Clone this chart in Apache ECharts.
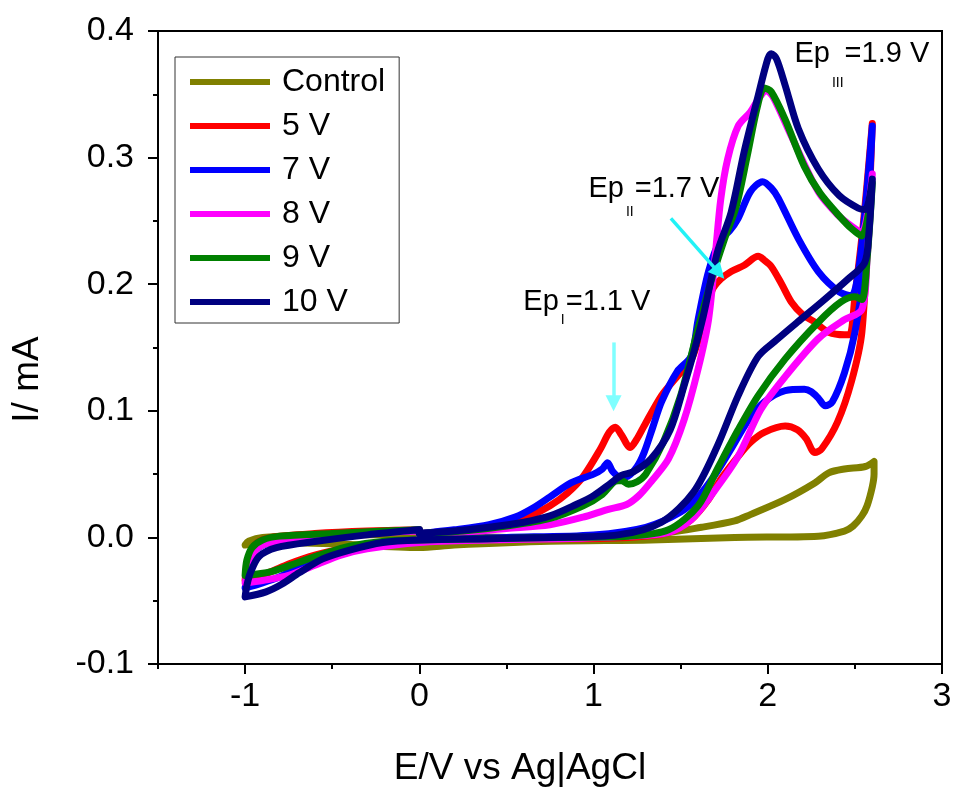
<!DOCTYPE html>
<html>
<head>
<meta charset="utf-8">
<title>Cyclic voltammograms</title>
<script src="https://cdn.jsdelivr.net/npm/echarts@6/dist/echarts.min.js"></script>
<style>
  html, body { margin: 0; padding: 0; background: #fff; }
  #chart { width: 956px; height: 788px; }
</style>
</head>
<body>
<div id="chart"></div>
<script>
// Each loop: anodic sweep 0 -> 2.6 V, cathodic sweep 2.6 -> -1 V, then back to 0 V.
// Points are [E (V vs Ag|AgCl), I (mA)].
const seriesNames = ['Control', '5 V', '7 V', '8 V', '9 V', '10 V'];
const seriesColors = ['#808000', '#FF0000', '#0000FF', '#FF00FF', '#008000', '#000080'];

const control = [
  [0.0, 0.002], [0.5, 0.0], [1.0, 0.0], [1.33, 0.002], [1.62, 0.008], [1.81, 0.013], [1.9, 0.018],
  [2.1, 0.030], [2.27, 0.043], [2.35, 0.051], [2.44, 0.054], [2.56, 0.056], [2.61, 0.060],
  [2.61, 0.050], [2.6, 0.040], [2.57, 0.025], [2.54, 0.017], [2.49, 0.009], [2.44, 0.005],
  [2.29, 0.001], [1.81, 0.0], [1.33, -0.002], [0.75, -0.003], [0.2, -0.006], [0.0, -0.008],
  [-0.5, -0.005], [-0.9, -0.004], [-1.0, -0.006],
  [-0.98, -0.003], [-0.9, 0.0], [-0.5, 0.002], [0.0, 0.002]
];

const v5 = [
  [0.0, 0.003], [0.25, 0.006], [0.5, 0.012], [0.65, 0.018], [0.75, 0.025], [0.85, 0.035],
  [0.94, 0.048], [1.04, 0.070], [1.09, 0.083], [1.125, 0.087], [1.16, 0.081], [1.21, 0.071],
  [1.25, 0.078], [1.29, 0.088], [1.39, 0.112], [1.48, 0.127], [1.56, 0.140], [1.62, 0.165],
  [1.68, 0.195], [1.73, 0.204], [1.79, 0.210], [1.865, 0.215], [1.945, 0.222], [1.98, 0.219],
  [2.02, 0.214], [2.08, 0.200], [2.135, 0.186], [2.2, 0.176], [2.27, 0.170], [2.35, 0.162],
  [2.44, 0.160], [2.47, 0.160], [2.5, 0.190], [2.55, 0.250], [2.6, 0.327],
  [2.58, 0.260], [2.54, 0.162], [2.48, 0.123], [2.40, 0.091], [2.31, 0.070], [2.27, 0.067],
  [2.22, 0.078], [2.17, 0.085], [2.10, 0.088], [1.98, 0.083], [1.90, 0.075], [1.83, 0.064],
  [1.73, 0.046], [1.66, 0.030], [1.56, 0.014], [1.43, 0.004], [1.2, 0.0], [0.8, -0.001],
  [0.4, -0.001], [0.0, -0.002], [-0.2, -0.004], [-0.4, -0.008], [-0.6, -0.014], [-0.75, -0.021],
  [-0.85, -0.027], [-0.93, -0.031], [-1.0, -0.034],
  [-0.99, -0.022], [-0.97, -0.012], [-0.93, -0.004], [-0.85, 0.0], [-0.6, 0.003], [-0.3, 0.005], [0.0, 0.006]
];

const v7 = [
  [0.0, 0.003], [0.2, 0.006], [0.4, 0.010], [0.55, 0.016], [0.65, 0.023], [0.75, 0.032],
  [0.87, 0.043], [1.0, 0.050], [1.05, 0.054], [1.08, 0.059], [1.11, 0.052], [1.15, 0.048],
  [1.19, 0.048], [1.25, 0.056], [1.29, 0.067], [1.34, 0.087], [1.39, 0.107], [1.48, 0.131],
  [1.56, 0.143], [1.60, 0.172], [1.66, 0.210], [1.73, 0.236], [1.78, 0.242], [1.83, 0.252],
  [1.90, 0.273], [1.97, 0.281], [2.02, 0.276], [2.06, 0.268], [2.175, 0.236], [2.29, 0.210],
  [2.41, 0.194], [2.48, 0.191], [2.52, 0.210], [2.56, 0.260], [2.6, 0.325],
  [2.58, 0.270], [2.556, 0.214], [2.50, 0.162], [2.44, 0.130], [2.37, 0.107], [2.33, 0.104],
  [2.29, 0.110], [2.25, 0.115], [2.21, 0.117], [2.10, 0.116], [1.98, 0.107], [1.89, 0.093],
  [1.79, 0.070], [1.70, 0.050], [1.60, 0.032], [1.50, 0.020], [1.30, 0.008], [1.0, 0.002],
  [0.5, 0.0], [0.0, -0.002], [-0.2, -0.004], [-0.4, -0.009], [-0.55, -0.015], [-0.7, -0.024],
  [-0.8, -0.031], [-0.9, -0.036], [-1.0, -0.040],
  [-0.98, -0.025], [-0.95, -0.012], [-0.9, -0.006], [-0.8, -0.002], [-0.5, 0.002], [-0.2, 0.004], [0.0, 0.006]
];

const v8 = [
  [0.0, 0.002], [0.25, 0.004], [0.5, 0.007], [0.75, 0.010], [0.94, 0.016], [1.08, 0.022],
  [1.19, 0.026], [1.26, 0.033], [1.33, 0.044], [1.43, 0.062], [1.52, 0.093], [1.60, 0.133],
  [1.66, 0.172], [1.70, 0.225], [1.73, 0.267], [1.77, 0.299], [1.83, 0.325], [1.90, 0.336],
  [1.95, 0.347], [1.99, 0.353], [2.03, 0.348], [2.135, 0.317], [2.29, 0.273], [2.40, 0.255],
  [2.48, 0.246], [2.54, 0.241], [2.6, 0.287],
  [2.57, 0.220], [2.54, 0.180], [2.44, 0.172], [2.29, 0.157], [2.10, 0.127], [1.96, 0.101],
  [1.83, 0.064], [1.69, 0.036], [1.56, 0.014], [1.43, 0.004], [1.2, 0.001], [0.8, -0.001],
  [0.4, -0.002], [0.0, -0.004], [-0.3, -0.009], [-0.45, -0.014], [-0.6, -0.022], [-0.75, -0.030],
  [-0.9, -0.034], [-1.0, -0.036],
  [-0.98, -0.024], [-0.95, -0.012], [-0.9, -0.006], [-0.8, -0.003], [-0.5, 0.001], [-0.2, 0.004], [0.0, 0.005]
];

const v9 = [
  [0.0, 0.003], [0.25, 0.005], [0.5, 0.009], [0.75, 0.015], [0.94, 0.025], [1.05, 0.034],
  [1.12, 0.044], [1.16, 0.045], [1.2, 0.042], [1.25, 0.044], [1.3, 0.050], [1.4, 0.075],
  [1.5, 0.112], [1.6, 0.165], [1.68, 0.205], [1.75, 0.235], [1.82, 0.262], [1.88, 0.300],
  [1.94, 0.340], [1.98, 0.355], [2.02, 0.352], [2.1, 0.330], [2.21, 0.293], [2.3, 0.272],
  [2.41, 0.254], [2.48, 0.244], [2.54, 0.238], [2.6, 0.280],
  [2.57, 0.220], [2.54, 0.188], [2.50, 0.190], [2.42, 0.186], [2.29, 0.170], [2.10, 0.141],
  [1.945, 0.112], [1.83, 0.085], [1.71, 0.054], [1.60, 0.025], [1.43, 0.006], [1.2, 0.001],
  [0.8, 0.0], [0.4, -0.001], [0.0, -0.002], [-0.2, -0.003], [-0.4, -0.007], [-0.55, -0.013],
  [-0.7, -0.020], [-0.85, -0.027], [-1.0, -0.030],
  [-0.99, -0.018], [-0.96, -0.008], [-0.9, -0.002], [-0.8, 0.001], [-0.5, 0.003], [-0.2, 0.005], [0.0, 0.006]
];

const v10 = [
  [0.0, 0.003], [0.2, 0.005], [0.4, 0.008], [0.6, 0.012], [0.75, 0.017], [0.9, 0.026],
  [1.0, 0.033], [1.1, 0.043], [1.16, 0.049], [1.23, 0.052], [1.33, 0.062], [1.44, 0.085],
  [1.52, 0.120], [1.575, 0.146], [1.63, 0.175], [1.71, 0.225], [1.79, 0.257], [1.865, 0.305],
  [1.945, 0.349], [2.0, 0.378], [2.02, 0.382], [2.05, 0.378], [2.10, 0.357], [2.175, 0.323],
  [2.29, 0.291], [2.41, 0.270], [2.52, 0.260], [2.56, 0.259], [2.6, 0.283],
  [2.58, 0.240], [2.556, 0.217], [2.46, 0.204], [2.31, 0.186], [2.17, 0.170], [2.05, 0.156],
  [1.945, 0.143], [1.83, 0.112], [1.71, 0.072], [1.575, 0.036], [1.39, 0.012], [1.14, 0.002],
  [0.75, 0.0], [0.4, -0.001], [0.0, -0.002], [-0.21, -0.004], [-0.40, -0.010], [-0.555, -0.017],
  [-0.69, -0.028], [-0.79, -0.037], [-0.88, -0.043], [-1.0, -0.047],
  [-0.99, -0.038], [-0.97, -0.028], [-0.92, -0.015], [-0.82, -0.008], [-0.59, -0.003], [-0.30, 0.002], [0.0, 0.006]
];

const seriesData = [control, v5, v7, v8, v9, v10];

// Axis ticks
const xMajorTicks = [-1, 0, 1, 2, 3];
const xMinorTicks = [-1.5, -0.5, 0.5, 1.5, 2.5];

// Peak annotations: text anchor [E, I], subscript, stated potential
const peakNotes = [
  { at: [0.597, 0.186], sub: 'I', potential: '1.1', subDy: 18 },
  { at: [0.971, 0.275], sub: 'II', potential: '1.7', subDy: 23 },
  { at: [2.153, 0.382], sub: 'III', potential: '1.9', subDy: 29 }
];
// Arrows pointing at the peaks: [start, end] in [E, I]
const peakArrows = [
  { from: [1.115, 0.154], to: [1.115, 0.106], color: '#7FFFFF' },
  { from: [1.444, 0.252], to: [1.72, 0.209], color: '#22F2F6' }
];

const FONT = '"Liberation Sans", Arial, sans-serif';
const chart = echarts.init(document.getElementById('chart'), null, { renderer: 'canvas' });

const lineSeries = seriesData.map((d, i) => ({
  name: seriesNames[i],
  type: 'line',
  data: d,
  xAxisIndex: 0,
  yAxisIndex: 0,
  showSymbol: false,
  smooth: 0.3,
  color: seriesColors[i],
  lineStyle: { width: 7, color: seriesColors[i], cap: 'round', join: 'round' },
  emphasis: { disabled: true },
  z: 2 + i
}));

const arrowSeries = {
  type: 'lines',
  coordinateSystem: 'cartesian2d',
  xAxisIndex: 0,
  yAxisIndex: 0,
  symbol: ['none', 'triangle'],
  symbolSize: [11, 16],
  z: 20,
  silent: true,
  data: peakArrows.map(a => ({
    coords: [a.from, a.to],
    lineStyle: { color: a.color, width: 3.5, opacity: 1 }
  }))
};

chart.setOption({
  animation: false,
  backgroundColor: '#fff',
  textStyle: { fontFamily: FONT },
  grid: {
    left: 158, right: 14, top: 31, bottom: 124,
    show: true, borderColor: '#000', borderWidth: 2, backgroundColor: 'transparent',
    containLabel: false, outerBoundsMode: 'none'
  },
  legend: {
    orient: 'vertical',
    left: 175, top: 57,
    itemWidth: 80, itemHeight: 6, itemGap: 12,
    icon: 'rect',
    padding: [9, 14, 5, 15],
    borderColor: '#333', borderWidth: 1,
    backgroundColor: '#fff',
    selectedMode: false,
    textStyle: { fontSize: 32, color: '#000', fontFamily: FONT, padding: [0, 0, 0, 7] },
    data: seriesNames
  },
  xAxis: [
    {
      type: 'value', min: -1.5, max: 3, position: 'bottom',
      name: 'E/V vs Ag|AgCl', nameLocation: 'middle', nameGap: 86,
      nameTextStyle: { fontSize: 37, color: '#000', fontFamily: FONT, padding: [0, 60, 0, 0] },
      axisLine: { show: true, onZero: false, lineStyle: { color: '#000', width: 2 } },
      axisTick: { show: true, customValues: xMajorTicks, length: 10, lineStyle: { color: '#000', width: 2 } },
      axisLabel: { customValues: xMajorTicks, fontSize: 34, color: '#000', margin: 16, fontFamily: FONT },
      splitLine: { show: false }
    },
    {
      type: 'value', min: -1.5, max: 3, position: 'bottom',
      axisLine: { show: false, onZero: false },
      axisTick: { show: true, customValues: xMinorTicks, length: 5, lineStyle: { color: '#000', width: 2 } },
      axisLabel: { show: false },
      splitLine: { show: false }
    }
  ],
  yAxis: {
    type: 'value', min: -0.1, max: 0.4, interval: 0.1,
    name: 'I/ mA', nameLocation: 'middle', nameGap: 112,
    nameTextStyle: { fontSize: 37, color: '#000', fontFamily: FONT, padding: [0, 64, 0, 0] },
    axisLine: { show: true, onZero: false, lineStyle: { color: '#000', width: 2 } },
    axisTick: { show: true, length: 10, lineStyle: { color: '#000', width: 2 } },
    minorTick: { show: true, splitNumber: 2, length: 5, lineStyle: { color: '#000', width: 2 } },
    axisLabel: {
      fontSize: 34, color: '#000', margin: 24, fontFamily: FONT,
      formatter: v => v.toFixed(1)
    },
    splitLine: { show: false }
  },
  series: lineSeries.concat([arrowSeries])
});

// Peak labels "Ep_n = x V" with subscripts, placed from their data anchors
const measureCtx = document.createElement('canvas').getContext('2d');
function textWidth(str, size) {
  measureCtx.font = size + 'px ' + FONT;
  return measureCtx.measureText(str).width;
}
const NOTE_SIZE = 29;
const SUB_SIZE = 14;
const noteGraphics = peakNotes.map(n => {
  const p = chart.convertToPixel({ gridIndex: 0 }, n.at);
  const wEp = textWidth('Ep', NOTE_SIZE);
  const wSub = textWidth(n.sub, SUB_SIZE);
  const base = { fontFamily: FONT, fill: '#000' };
  return {
    type: 'group',
    x: p[0], y: p[1],
    silent: true,
    z: 30,
    children: [
      { type: 'text', style: Object.assign({ text: 'Ep', fontSize: NOTE_SIZE, verticalAlign: 'middle', align: 'left' }, base) },
      { type: 'text', x: wEp + 2, y: n.subDy, style: Object.assign({ text: n.sub, fontSize: SUB_SIZE, verticalAlign: 'middle', align: 'left' }, base) },
      { type: 'text', x: wEp + wSub + 3, style: Object.assign({ text: '=' + n.potential + ' V', fontSize: NOTE_SIZE, verticalAlign: 'middle', align: 'left' }, base) }
    ]
  };
});
chart.setOption({ graphic: noteGraphics });
</script>
</body>
</html>
